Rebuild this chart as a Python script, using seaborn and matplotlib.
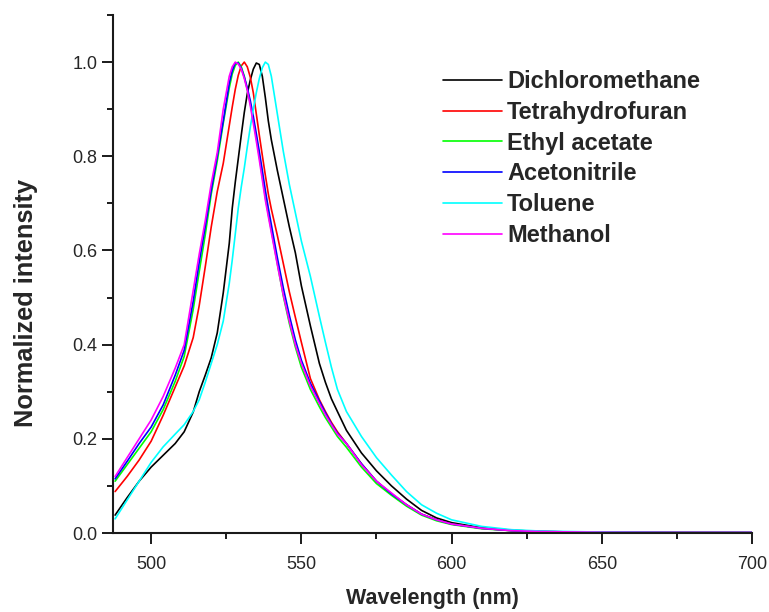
import numpy as np
import pandas as pd
import matplotlib
matplotlib.use('Agg')
import matplotlib.pyplot as plt
from matplotlib.ticker import MultipleLocator, FormatStrFormatter
import seaborn as sns

# ---------------------------------------------------------------
# Emission spectra (normalized intensity)
# ---------------------------------------------------------------
wavelength = [488, 492, 496, 500, 504, 508, 511, 514, 516, 518, 520, 522, 524, 526, 527,
              528, 529, 530, 531, 532, 533, 534, 535, 536, 537, 538, 539, 540, 542, 544,
              546, 548, 550, 553, 556, 558, 560, 562, 565, 570, 575, 580, 585, 590, 595,
              600, 610, 620, 630, 650, 675, 700]

dichloromethane = [.038, .075, .110, .140, .165, .190, .215, .257, .300, .335, .372, .425, .510, .615, .690,
                   .745, .795, .845, .893, .933, .962, .985, .998, .995, .970, .925, .875, .835, .770, .710,
                   .650, .595, .525, .440, .360, .320, .285, .258, .218, .170, .132, .100, .072, .048, .032,
                   .022, .011, .006, .003, .0015, .001, .001]

tetrahydrofuran = [.088, .120, .155, .195, .250, .310, .355, .415, .483, .565, .650, .725, .785, .865, .905,
                   .942, .972, .992, 1.000, .990, .968, .935, .890, .845, .802, .760, .720, .688, .632, .572,
                   .512, .458, .405, .328, .283, .258, .235, .215, .190, .147, .110, .083, .060, .040, .028,
                   .019, .010, .005, .003, .0015, .001, .001]

ethyl_acetate = [.110, .145, .180, .215, .262, .322, .375, .475, .555, .633, .720, .790, .870, .945, .975,
                 .993, 1.000, .990, .970, .942, .912, .877, .840, .800, .757, .714, .677, .643, .572, .503,
                 .445, .395, .352, .305, .268, .245, .225, .205, .182, .140, .105, .080, .057, .038, .026,
                 .018, .009, .005, .003, .001, .0005, .0005]

acetonitrile = [.115, .152, .190, .225, .272, .335, .388, .492, .575, .650, .728, .800, .875, .955, .982,
                .998, .998, .987, .968, .945, .918, .885, .848, .810, .770, .728, .690, .655, .585, .520,
                .462, .410, .367, .318, .280, .255, .232, .212, .190, .147, .110, .083, .060, .040, .028,
                .019, .010, .005, .003, .0015, .001, .001]

toluene = [.030, .070, .110, .150, .183, .210, .230, .258, .283, .320, .360, .400, .450, .530, .580,
           .635, .690, .735, .775, .820, .862, .900, .935, .965, .988, 1.000, .995, .970, .890, .810,
           .740, .680, .620, .545, .460, .405, .352, .305, .258, .205, .160, .123, .088, .060, .042,
           .028, .014, .007, .004, .002, .001, .001]

methanol = [.120, .160, .200, .240, .290, .350, .400, .515, .592, .663, .742, .808, .900, .970, .990,
            1.000, .996, .985, .965, .940, .907, .870, .832, .792, .750, .707, .672, .638, .570, .505,
            .450, .400, .360, .312, .275, .251, .230, .210, .190, .145, .110, .085, .060, .040, .028,
            .019, .010, .005, .003, .0015, .001, .001]

solvents = ['Dichloromethane', 'Tetrahydrofuran', 'Ethyl acetate',
            'Acetonitrile', 'Toluene', 'Methanol']
series = [dichloromethane, tetrahydrofuran, ethyl_acetate, acetonitrile, toluene, methanol]
colors = ['#000000', '#FF0000', '#00FF00', '#0000FF', '#00FFFF', '#FF00FF']

df = pd.concat([pd.DataFrame({'Wavelength': wavelength, 'Intensity': vals, 'Solvent': name})
                for name, vals in zip(solvents, series)], ignore_index=True)

# ---------------------------------------------------------------
# Plot
# ---------------------------------------------------------------
sns.set_style('ticks')
plt.rcParams['font.family'] = ['Liberation Sans', 'DejaVu Sans']

fig = plt.figure(figsize=(7.69, 6.12), dpi=100)
ax = fig.add_axes([113 / 769, 1 - 533 / 612, (752 - 113) / 769, (533 - 15) / 612])

sns.lineplot(data=df, x='Wavelength', y='Intensity', hue='Solvent',
             hue_order=solvents, palette=colors, estimator=None,
             linewidth=1.2, ax=ax)

ax.set_xlim(487.3, 700)
ax.set_ylim(0, 1.1)
ax.xaxis.set_major_locator(MultipleLocator(50))
ax.xaxis.set_minor_locator(MultipleLocator(25))
ax.set_yticks(np.arange(0, 1.01, 0.2))
ax.set_yticks(np.arange(0.1, 1.15, 0.2), minor=True)
ax.yaxis.set_major_formatter(FormatStrFormatter('%.1f'))

sns.despine(ax=ax)
for side in ['left', 'bottom']:
    ax.spines[side].set_linewidth(1.5)
    ax.spines[side].set_color('#1a1a1a')
ax.tick_params(which='major', length=8, width=1.4, labelsize=13, color='#1a1a1a')
ax.tick_params(which='minor', length=4.5, width=1.4, color='#1a1a1a')
ax.tick_params(axis='x', which='major', pad=8.5)
ax.tick_params(axis='y', which='major', pad=3)

ax.set_xlabel('Wavelength (nm)', fontsize=15.5, fontweight='bold', labelpad=11)
ax.set_ylabel('Normalized intensity', fontsize=18.3, fontweight='bold')
ax.yaxis.set_label_coords(-0.118, 0.444)

handles, labels = ax.get_legend_handles_labels()
ax.legend(handles, labels, frameon=False, loc='upper left',
          bbox_to_anchor=(443 / 769, 1 - 70 / 612), bbox_transform=fig.transFigure,
          prop={'weight': 'bold', 'size': 17}, handlelength=2.5, handletextpad=0.22,
          labelspacing=0.33, borderpad=0, borderaxespad=0)

plt.savefig('out.png', dpi=100)
